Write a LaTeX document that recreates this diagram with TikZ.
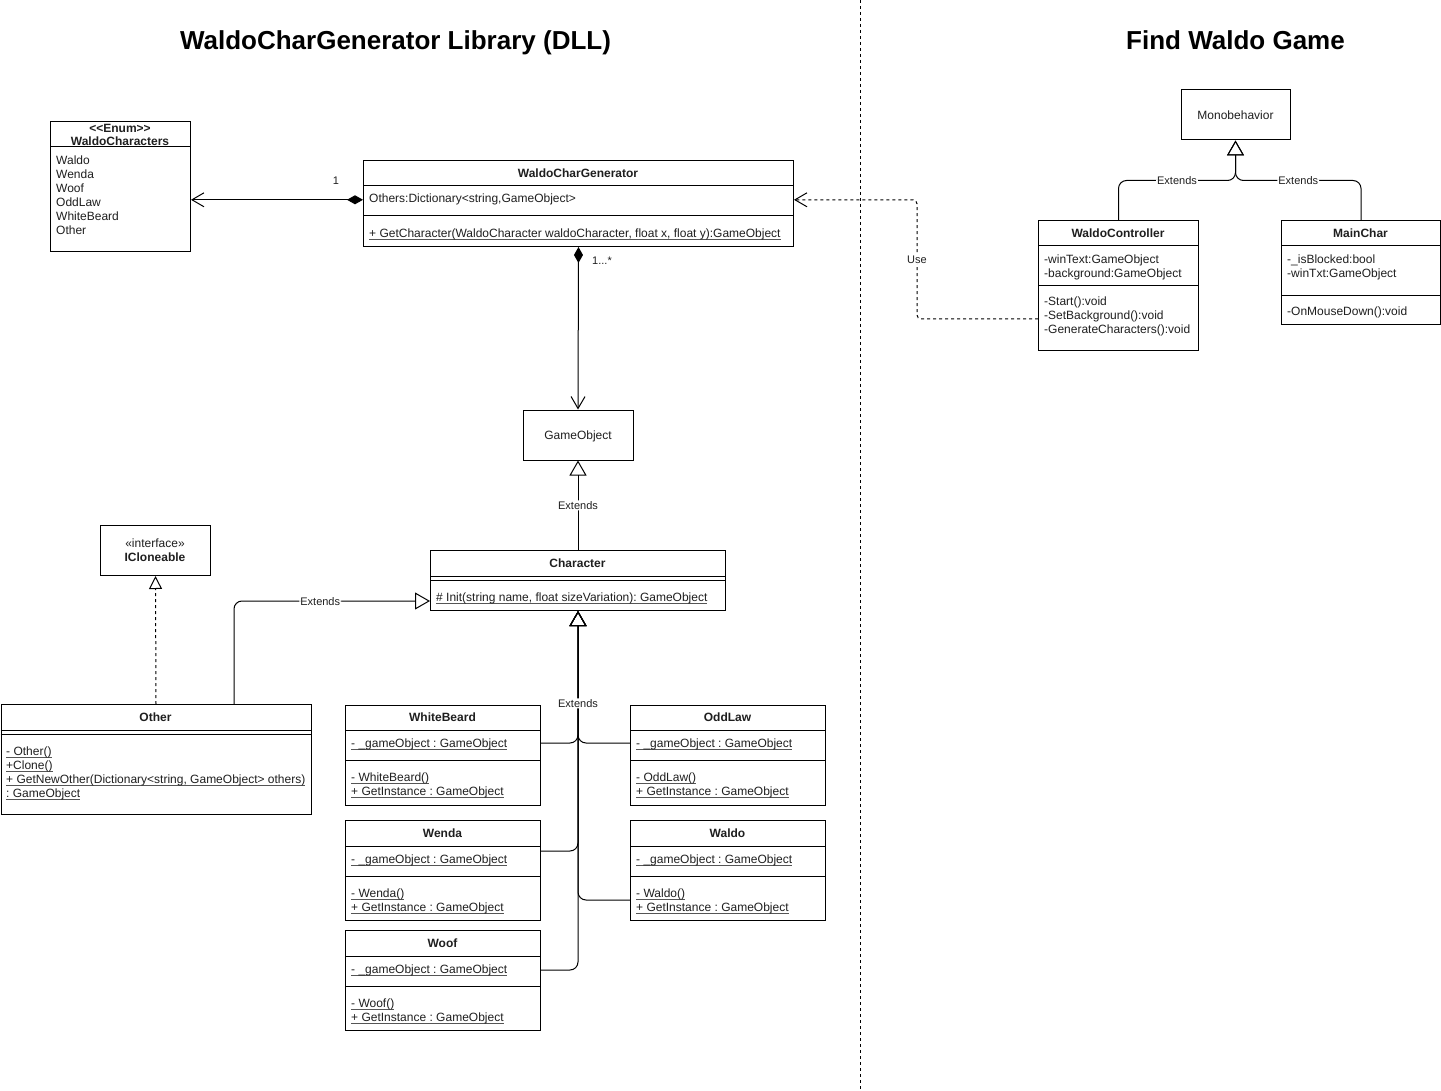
\documentclass[tikz,border=0pt]{standalone}
\usepackage{fontspec}
\setmainfont{Liberation Sans}
\usepackage{xcolor}
\usepackage{tikz}
\usetikzlibrary{arrows.meta}
\frenchspacing
\definecolor{ink}{HTML}{000000}
\definecolor{txt}{HTML}{1F1F1F}
\definecolor{uline}{HTML}{555555}
\newcommand{\ulc}[1]{\leavevmode\setbox0=\hbox{#1}\rlap{\color{uline}\rule[-1.8pt]{\wd0}{0.6pt}}\box0}
\tikzset{
  line/.style={draw=ink, line width=1pt},
  dashedline/.style={draw=ink, line width=1pt, dash pattern=on 3pt off 3pt},
  cbox/.style={draw=ink, line width=1pt, fill=white, anchor=north west, inner sep=0pt},
  cname/.style={draw=ink, line width=1pt, fill=white, inner sep=0pt, text=txt, font=\fontsize{12}{14}\selectfont, text height=8.7pt, text depth=0pt},
  ctitle/.style={text=txt, font=\bfseries\fontsize{12}{14}\selectfont, inner sep=0pt, text height=8.7pt, text depth=0pt},
  cnote/.style={text=txt, font=\fontsize{12}{14}\selectfont, inner sep=0pt, text height=8.7pt, text depth=0pt},
  mlist/.style={text=txt, font=\fontsize{12}{14}\selectfont, align=left, anchor=north west, inner sep=0pt},
  lbl/.style={text=txt, font=\fontsize{11}{13}\selectfont, fill=white, inner sep=1pt, text height=8pt, text depth=0pt},
  mlabel/.style={text=txt, font=\fontsize{11}{13}\selectfont, inner sep=0pt, text height=8pt, text depth=0pt},
  heading/.style={text=ink, font=\bfseries\fontsize{26}{30}\selectfont, inner sep=0pt, text height=18.7pt, text depth=0pt},
  inherit/.style={line, rounded corners=8pt, -{Triangle[open, length=15pt, width=17pt]}},
  realize/.style={dashedline, -{Triangle[open, length=13pt, width=13pt]}},
  compose/.style={line, {Diamond[length=16pt, width=9pt]}-{Straight Barb[length=12pt, width=14pt]}},
  depend/.style={dashedline, rounded corners=4pt, -{Straight Barb[length=12pt, width=14pt]}}
}

\begin{document}
\begin{tikzpicture}[x=1pt, y=-1pt]
  \fill[white] (0,0) rectangle (1441,1091);
  \useasboundingbox (0,0) rectangle (1441,1091);

  % headings and split
  \node[heading] (libtitle) at (395.5,40) {WaldoCharGenerator Library (DLL)};
  \node[heading] (gametitle) at (1235.5,40) {Find Waldo Game};
  \coordinate (splittop) at (860,0);
  \coordinate (splitbot) at (860,1091);
  \draw[dashedline] (splittop) -- (splitbot);

  % enum
  \node[cbox, minimum width=140pt, minimum height=130pt] (enum) at (50,121) {};
  \node[ctitle] (enumtag) at (120,128) {<\kern0pt<Enum>\kern0pt>};
  \node[ctitle] (enumname) at (120,141) {WaldoCharacters};
  \draw[line] ([yshift=-26pt]enum.north west) -- ([yshift=-26pt]enum.north east);
  \node[mlist] (enumitems) at (56,155.5) {Waldo\\Wenda\\Woof\\OddLaw\\WhiteBeard\\Other};

  % generator
  \node[cbox, minimum width=430pt, minimum height=86pt] (wcg) at (363,160) {};
  \node[ctitle] (wcgname) at (578,173) {WaldoCharGenerator};
  \draw[line] ([yshift=-26pt]wcg.north west) -- ([yshift=-26pt]wcg.north east);
  \draw[line] ([yshift=-56pt]wcg.north west) -- ([yshift=-56pt]wcg.north east);
  \node[mlist] (wcga) at (369,194) {Others:Dictionary<string,GameObject>};
  \node[mlist] (wcgm) at (369,228.5) {\ulc{+ GetCharacter(WaldoCharacter waldoCharacter, float x, float y):GameObject}};

  \node[cname, minimum width=110pt, minimum height=50pt] (gobj) at (578,435) {GameObject};
  \draw[compose] (wcg.west |- wcga) -- (enum.east |- wcga);
  \draw[compose] (wcg.south) -- (gobj.north);
  \node[mlabel] (onelbl) at (336,181) {1};
  \node[mlabel] (manylbl) at (602,261) {1...*};

  % character
  \node[cbox, minimum width=295pt, minimum height=60pt] (char) at (430,550) {};
  \node[ctitle] (charname) at (577.5,563) {Character};
  \draw[line] ([yshift=-26pt]char.north west) -- ([yshift=-26pt]char.north east);
  \draw[line] ([yshift=-30pt]char.north west) -- ([yshift=-30pt]char.north east);
  \node[mlist] (charm) at (436,592.5) {\ulc{\# Init(string name, float sizeVariation): GameObject}};
  \draw[inherit] (gobj.south |- char.north) -- node[lbl] {Extends} (gobj.south);

  % interface and Other
  \node[cbox, minimum width=110pt, minimum height=50pt] (iclone) at (100,525) {};
  \node[cnote] (icltag) at (155,543) {«interface»};
  \node[ctitle] (iclname) at (155,557) {ICloneable};
  \node[cbox, minimum width=310pt, minimum height=110pt] (other) at (0.5,704) {};
  \node[ctitle] (othername) at (155.5,717) {Other};
  \draw[line] ([yshift=-26pt]other.north west) -- ([yshift=-26pt]other.north east);
  \draw[line] ([yshift=-30pt]other.north west) -- ([yshift=-30pt]other.north east);
  \node[mlist] (otherm) at (6,746.5) {\ulc{- Other()}\\\ulc{+Clone()}\\\ulc{+ GetNewOther(Dictionary<string, GameObject> others)}\\\ulc{: GameObject}};
  \draw[realize] (other.north) -- (iclone.south);
  \draw[inherit] ([xshift=78pt]other.north) |- node[lbl, pos=0.72] {Extends} ([yshift=10pt]char.south west);

  % subclasses
  \node[cbox, minimum width=195pt, minimum height=100pt] (wb) at (345,705) {};
  \node[ctitle] (wbname) at (442.5,717.5) {WhiteBeard};
  \draw[line] ([yshift=-25pt]wb.north west) -- ([yshift=-25pt]wb.north east);
  \draw[line] ([yshift=-55pt]wb.north west) -- ([yshift=-55pt]wb.north east);
  \node[mlist] (wba) at (351,738.5) {\ulc{- \_gameObject : GameObject}};
  \node[mlist] (wbm) at (351,772.5) {\ulc{- WhiteBeard()}\\\ulc{+ GetInstance : GameObject}};

  \node[cbox, minimum width=195pt, minimum height=100pt] (ol) at (630,705) {};
  \node[ctitle] (olname) at (727.5,717.5) {OddLaw};
  \draw[line] ([yshift=-25pt]ol.north west) -- ([yshift=-25pt]ol.north east);
  \draw[line] ([yshift=-55pt]ol.north west) -- ([yshift=-55pt]ol.north east);
  \node[mlist] (ola) at (636,738.5) {\ulc{- \_gameObject : GameObject}};
  \node[mlist] (olm) at (636,772.5) {\ulc{- OddLaw()}\\\ulc{+ GetInstance : GameObject}};

  \node[cbox, minimum width=195pt, minimum height=100pt] (wenda) at (345,820) {};
  \node[ctitle] (wendaname) at (442.5,833) {Wenda};
  \draw[line] ([yshift=-26pt]wenda.north west) -- ([yshift=-26pt]wenda.north east);
  \draw[line] ([yshift=-56pt]wenda.north west) -- ([yshift=-56pt]wenda.north east);
  \node[mlist] (wendaa) at (351,854.5) {\ulc{- \_gameObject : GameObject}};
  \node[mlist] (wendam) at (351,888.5) {\ulc{- Wenda()}\\\ulc{+ GetInstance : GameObject}};

  \node[cbox, minimum width=195pt, minimum height=100pt] (waldo) at (630,820) {};
  \node[ctitle] (waldoname) at (727.5,833) {Waldo};
  \draw[line] ([yshift=-26pt]waldo.north west) -- ([yshift=-26pt]waldo.north east);
  \draw[line] ([yshift=-56pt]waldo.north west) -- ([yshift=-56pt]waldo.north east);
  \node[mlist] (waldoa) at (636,854.5) {\ulc{- \_gameObject : GameObject}};
  \node[mlist] (waldom) at (636,888.5) {\ulc{- Waldo()}\\\ulc{+ GetInstance : GameObject}};

  \node[cbox, minimum width=195pt, minimum height=100pt] (woof) at (345,930) {};
  \node[ctitle] (woofname) at (442.5,943) {Woof};
  \draw[line] ([yshift=-26pt]woof.north west) -- ([yshift=-26pt]woof.north east);
  \draw[line] ([yshift=-56pt]woof.north west) -- ([yshift=-56pt]woof.north east);
  \node[mlist] (woofa) at (351,964.5) {\ulc{- \_gameObject : GameObject}};
  \node[mlist] (woofm) at (351,998.5) {\ulc{- Woof()}\\\ulc{+ GetInstance : GameObject}};

  \draw[inherit] ([yshift=-80pt]waldo.north west) -| (gobj.south |- char.south);
  \draw[inherit] ([yshift=-40pt]woof.north east) -| (gobj.south |- char.south);
  \draw[inherit] ([yshift=-31pt]wenda.north east) -| (gobj.south |- char.south);
  \draw[inherit] ([yshift=-38pt]ol.north west) -| (gobj.south |- char.south);
  \draw[inherit] ([yshift=-38pt]wb.north east) -| node[lbl, pos=0.65] {Extends} (gobj.south |- char.south);

  % game side
  \node[cname, minimum width=109pt, minimum height=50pt] (mono) at (1235.5,115) {Monobehavior};

  \node[cbox, minimum width=160pt, minimum height=130pt] (wc) at (1038,220) {};
  \node[ctitle] (wcname) at (1118,233) {WaldoController};
  \draw[line] ([yshift=-26pt]wc.north west) -- ([yshift=-26pt]wc.north east);
  \draw[line] ([yshift=-66pt]wc.north west) -- ([yshift=-66pt]wc.north east);
  \node[mlist] (wca) at (1044,254.5) {-winText:GameObject\\-background:GameObject};
  \node[mlist] (wcm) at (1044,296.5) {-Start():void\\-SetBackground():void\\-GenerateCharacters():void};

  \node[cbox, minimum width=159pt, minimum height=104pt] (mc) at (1281,220) {};
  \node[ctitle] (mcname) at (1360.5,233) {MainChar};
  \draw[line] ([yshift=-26pt]mc.north west) -- ([yshift=-26pt]mc.north east);
  \draw[line] ([yshift=-76pt]mc.north west) -- ([yshift=-76pt]mc.north east);
  \node[mlist] (mca) at (1287,254.5) {-\_isBlocked:bool\\-winTxt:GameObject};
  \node[mlist] (mcm) at (1287,306.5) {-OnMouseDown():void};

  \draw[inherit] (wc.north) |- node[lbl, pos=0.75] {Extends} ([yshift=-40pt]mono.south) -- (mono.south);
  \draw[inherit] (mc.north) |- node[lbl, pos=0.75] {Extends} ([yshift=-40pt]mono.south) -- (mono.south);
  \draw[depend] ([yshift=-99pt]wc.north west) -| node[lbl, pos=0.75] {Use} ([xshift=123pt]wcg.east |- wcga) -- (wcg.east |- wcga);
\end{tikzpicture}
\end{document}
